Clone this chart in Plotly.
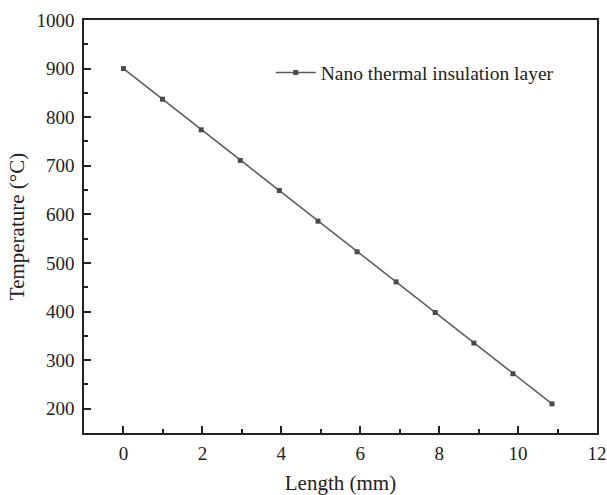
import plotly.graph_objects as go

length_mm = [0, 0.99, 1.97, 2.96, 3.95, 4.93, 5.92, 6.91, 7.90, 8.88, 9.87, 10.86]
temperature_c = [900, 837, 774, 711, 649, 586, 523, 461, 398, 335, 272, 210]
series_name = "Nano thermal insulation layer"

font_family = "Liberation Serif, Times New Roman, serif"

fig = go.Figure()
fig.add_trace(go.Scatter(
    x=length_mm, y=temperature_c, mode="lines+markers", name=series_name,
    line=dict(color="#5a5a5a", width=1.5),
    marker=dict(symbol="square", size=5, color="#4a4a4a"),
))

axis_common = dict(
    showline=True, linecolor="#222", linewidth=1.5, mirror=True,
    ticks="inside", ticklen=7, tickwidth=1.5, tickcolor="#222",
    showgrid=False, zeroline=False, automargin=False,
    tickfont=dict(family=font_family, size=19, color="#222"),
)

fig.update_xaxes(
    range=[-1, 12], tickmode="linear", tick0=0, dtick=2,
    minor=dict(ticks="inside", ticklen=4, tickwidth=1.5, tickcolor="#222", dtick=1, tick0=0, showgrid=False),
    title=dict(text="Length (mm)", font=dict(family=font_family, size=21, color="#222"), standoff=19),
    ticklabelstandoff=2,
    **axis_common,
)
fig.update_yaxes(
    range=[150, 1000], tickmode="linear", tick0=0, dtick=100,
    minor=dict(ticks="inside", ticklen=4, tickwidth=1.5, tickcolor="#222", dtick=50, tick0=0, showgrid=False),
    title=dict(text="Temperature (°C)", font=dict(family=font_family, size=21, color="#222"), standoff=6),
    ticklabelstandoff=4,
    **axis_common,
)

fig.update_layout(
    width=607, height=495,
    margin=dict(l=84, r=10, t=20, b=62),
    paper_bgcolor="white", plot_bgcolor="white",
    font=dict(family=font_family, size=19, color="#222"),
    showlegend=True,
    legend=dict(x=0.364, y=0.872, xanchor="left", yanchor="middle",
                bgcolor="rgba(0,0,0,0)", borderwidth=0, itemwidth=40,
                font=dict(family=font_family, size=19.5, color="#222")),
)

fig.write_html("out.html")
